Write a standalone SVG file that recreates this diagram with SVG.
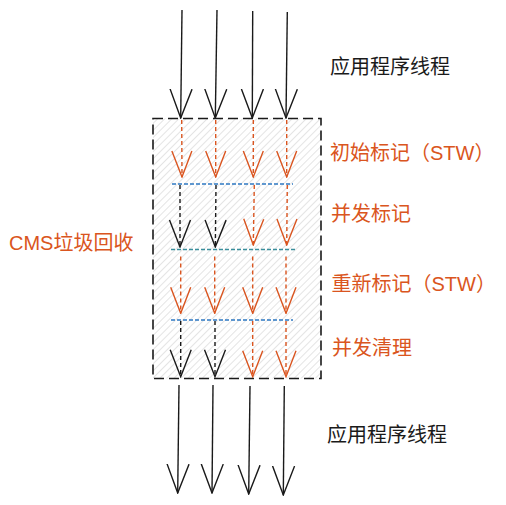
<svg xmlns="http://www.w3.org/2000/svg" width="506" height="505" viewBox="0 0 506 505">
<style>
.lbl{font-family:"Liberation Sans","Noto Sans CJK SC",sans-serif;font-size:20px}
.blk{fill:#1a1a1a}
.org{fill:#DA5520}
.th{stroke:#1a1a1a;stroke-width:1.4;fill:none}
.od{stroke:#DA5520;stroke-width:1.4;fill:none;stroke-dasharray:4 3}
.bd{stroke:#1a1a1a;stroke-width:1.4;fill:none;stroke-dasharray:4 3}
.sep{stroke:#2E78C2;stroke-width:1.3;fill:none;stroke-dasharray:4 2}
</style>
<defs>
<pattern id="hatch" width="5" height="5" patternUnits="userSpaceOnUse" patternTransform="rotate(45)">
<rect width="5" height="5" fill="#ffffff"/>
<line x1="0" y1="0" x2="0" y2="5" stroke="#d2d2d2" stroke-width="1.2"/>
</pattern>
<marker id="ahB" markerUnits="userSpaceOnUse" viewBox="0 0 30 24" refX="29" refY="12" markerWidth="30" markerHeight="24" orient="auto">
<path d="M0,1 L29,12 L0,23" fill="none" stroke="#1a1a1a" stroke-width="1.4"/>
</marker>
<marker id="ahO" markerUnits="userSpaceOnUse" viewBox="0 0 30 24" refX="29" refY="12" markerWidth="30" markerHeight="24" orient="auto">
<path d="M3,2 L29,12 L3,22" fill="none" stroke="#DA5520" stroke-width="1.4"/>
</marker>
<marker id="ahK" markerUnits="userSpaceOnUse" viewBox="0 0 30 24" refX="29" refY="12" markerWidth="30" markerHeight="24" orient="auto">
<path d="M2,1.5 L29,12 L2,22.5" fill="none" stroke="#1a1a1a" stroke-width="1.4"/>
</marker>
</defs>
<rect width="506" height="505" fill="#ffffff"/>

<g id="cms-box">
<rect x="153" y="118.5" width="168" height="260" fill="url(#hatch)" stroke="#1a1a1a" stroke-width="1.6" stroke-dasharray="10 5"/>
</g>

<g id="separators">
<line class="sep" x1="172" y1="184" x2="293" y2="184"/>
<line class="sep" x1="171" y1="249.5" x2="295" y2="249.5" style="stroke:#3A8E9C"/>
<line class="sep" x1="171" y1="320" x2="293" y2="320"/>
</g>

<g id="connectors">
<line class="th" x1="182" y1="10" x2="180.7" y2="118" marker-end="url(#ahB)"/>
<line class="th" x1="217" y1="10" x2="215.3" y2="118" marker-end="url(#ahB)"/>
<line class="th" x1="252.7" y1="11" x2="252.3" y2="118" marker-end="url(#ahB)"/>
<line class="th" x1="287.3" y1="12" x2="286" y2="118" marker-end="url(#ahB)"/>
<line class="od" x1="181.7" y1="120" x2="182" y2="177" marker-end="url(#ahO)"/>
<line class="od" x1="215.7" y1="120" x2="215.7" y2="177" marker-end="url(#ahO)"/>
<line class="od" x1="253.3" y1="120" x2="253.3" y2="177" marker-end="url(#ahO)"/>
<line class="od" x1="286.7" y1="120" x2="286.7" y2="177" marker-end="url(#ahO)"/>
<line class="bd" x1="180" y1="185" x2="180" y2="247" marker-end="url(#ahK)"/>
<line class="bd" x1="216" y1="185" x2="215.3" y2="247" marker-end="url(#ahK)"/>
<line class="od" x1="254.3" y1="185" x2="253.3" y2="245" marker-end="url(#ahO)"/>
<line class="od" x1="287.3" y1="185" x2="286.7" y2="245" marker-end="url(#ahO)"/>
<line class="od" x1="180.7" y1="256.5" x2="180.7" y2="313.3" marker-end="url(#ahO)"/>
<line class="od" x1="214.7" y1="256.5" x2="214.7" y2="313.3" marker-end="url(#ahO)"/>
<line class="od" x1="252.7" y1="256.5" x2="252.7" y2="313.3" marker-end="url(#ahO)"/>
<line class="od" x1="286" y1="256.5" x2="286" y2="313.3" marker-end="url(#ahO)"/>
<line class="bd" x1="180.7" y1="321" x2="180.7" y2="376.7" marker-end="url(#ahK)"/>
<line class="bd" x1="215" y1="321" x2="215" y2="376.7" marker-end="url(#ahK)"/>
<line class="od" x1="252.7" y1="321" x2="252.7" y2="376.7" marker-end="url(#ahO)"/>
<line class="od" x1="286" y1="321" x2="286" y2="376.7" marker-end="url(#ahO)"/>
<line class="th" x1="179" y1="385" x2="177.7" y2="493" marker-end="url(#ahB)"/>
<line class="th" x1="213" y1="385" x2="212" y2="493" marker-end="url(#ahB)"/>
<line class="th" x1="250" y1="386" x2="248.7" y2="494" marker-end="url(#ahB)"/>
<line class="th" x1="284.3" y1="386" x2="283.3" y2="495" marker-end="url(#ahB)"/>
</g>

<g id="label-app-top"><text class="lbl blk" x="330" y="73.5">应用程序线程</text></g>
<g id="label-initial-mark"><text class="lbl org" x="330" y="159.5">初始标记（STW）</text></g>
<g id="label-concurrent-mark"><text class="lbl org" x="331" y="221">并发标记</text></g>
<g id="label-remark"><text class="lbl org" x="331.5" y="291">重新标记（STW）</text></g>
<g id="label-concurrent-sweep"><text class="lbl org" x="332" y="355">并发清理</text></g>
<g id="label-cms"><text class="lbl org" x="9" y="249.5">CMS垃圾回收</text></g>
<g id="label-app-bottom"><text class="lbl blk" x="327" y="442">应用程序线程</text></g>
</svg>
